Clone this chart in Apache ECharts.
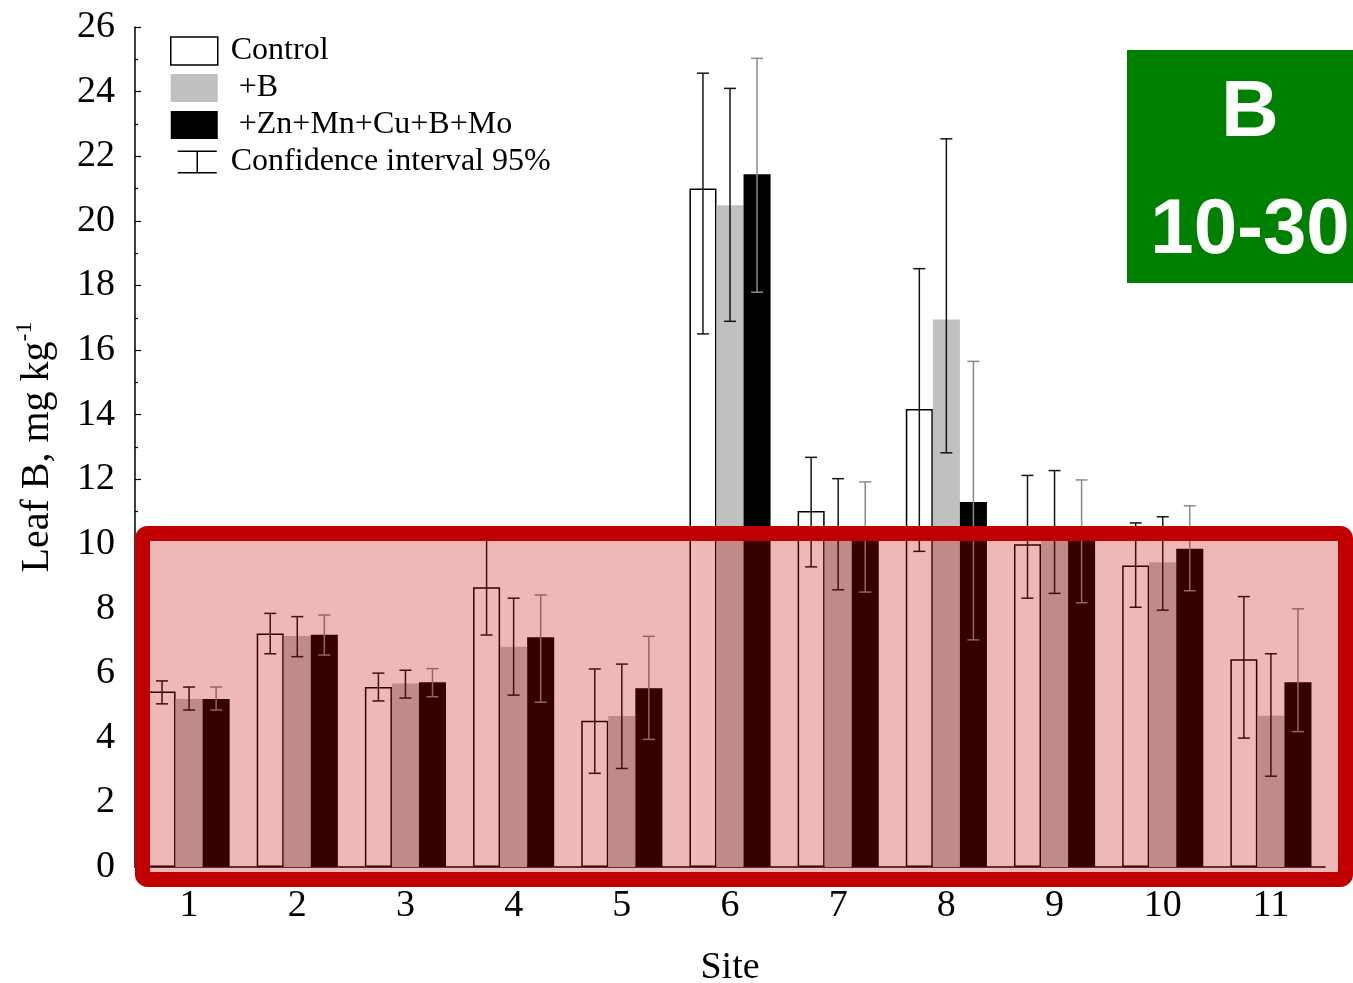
<!DOCTYPE html>
<html>
<head>
<meta charset="utf-8">
<script src="https://cdn.jsdelivr.net/npm/echarts@6/dist/echarts.min.js"></script>
<style>
  html, body { margin: 0; padding: 0; background: #fff; }
  #chart { width: 1353px; height: 983px; }
</style>
</head>
<body>
<div id="chart"></div>
<script>
// ---- data ----
const sites = ['1', '2', '3', '4', '5', '6', '7', '8', '9', '10', '11'];
const seriesNames = ['Control', '+B', '+Zn+Mn+Cu+B+Mo'];
const ciName = 'Confidence interval 95%';

const control     = [5.43, 7.23, 5.57, 8.66, 4.53, 21.00, 11.02, 14.18, 9.99, 9.33, 6.43];
const controlLow  = [5.05, 6.60, 5.14, 7.18, 2.90, 16.50, 9.29, 9.77, 8.32, 8.04, 3.99];
const controlHigh = [5.76, 7.85, 6.00, 10.14, 6.13, 24.57, 12.68, 18.52, 12.12, 10.65, 8.37];

const plusB       = [5.20, 7.15, 5.68, 6.82, 4.67, 20.48, 10.30, 16.95, 10.35, 9.43, 4.68];
const plusBLow    = [4.86, 6.51, 5.23, 5.32, 3.05, 16.89, 8.58, 12.82, 8.47, 7.95, 2.81];
const plusBHigh   = [5.57, 7.75, 6.09, 8.32, 6.28, 24.10, 12.02, 22.54, 12.27, 10.84, 6.60];

const mix         = [5.20, 7.19, 5.72, 7.11, 5.53, 21.44, 10.20, 11.30, 10.10, 9.85, 5.72];
const mixLow      = [4.86, 6.56, 5.27, 5.10, 3.95, 17.79, 8.51, 7.03, 8.18, 8.55, 4.19];
const mixHigh     = [5.57, 7.80, 6.14, 8.42, 7.14, 25.03, 11.92, 15.65, 11.98, 11.18, 7.99];

const yMin = 0, yMax = 26, yStep = 2;
const badgeTitle = 'B';
const badgeRange = '10-30';

// ---- build ----
const serif = 'Liberation Serif';
const lows = [controlLow, plusBLow, mixLow];
const highs = [controlHigh, plusBHigh, mixHigh];
const ciData = [];
for (let g = 0; g < 3; g++) {
  for (let i = 0; i < sites.length; i++) {
    ciData.push([i, g, lows[g][i], highs[g][i]]);
  }
}
const GAP = 0.25;

const chart = echarts.init(document.getElementById('chart'), null, { renderer: 'canvas' });

const option = {
  animation: false,
  backgroundColor: '#fff',
  grid: { left: 135, right: 28, top: 27, bottom: 116, containLabel: false, outerBoundsMode: 'none' },
  legend: {
    orient: 'vertical',
    left: 170,
    top: 35,
    padding: 0,
    itemWidth: 47,
    itemHeight: 28,
    itemGap: 5,
    selectedMode: false,
    textStyle: { fontFamily: serif, fontSize: 32, lineHeight: 28, color: '#000', padding: [0, 0, 0, 8] },
    formatter: function (name) {
      return (name === '+B' || name === '+Zn+Mn+Cu+B+Mo') ? ' ' + name : name;
    },
    data: [
      { name: seriesNames[0], icon: 'rect', itemStyle: { color: '#fff', borderColor: '#000', borderWidth: 1.5 } },
      { name: seriesNames[1], icon: 'rect', itemStyle: { color: '#c0c0c0', borderWidth: 0 } },
      { name: seriesNames[2], icon: 'rect', itemStyle: { color: '#000', borderWidth: 0 } },
      { name: ciName,
        icon: 'path://M0,0h0.01v0.01h-0.01z M46.99,27.99h0.01v0.01h-0.01z M7,2.5H46V4H27.25V24H46V25.5H7V24H25.75V4H7Z',
        itemStyle: { color: '#000', borderWidth: 0 } }
    ]
  },
  xAxis: {
    type: 'category',
    data: sites,
    name: 'Site',
    nameLocation: 'middle',
    nameGap: 82,
    nameTextStyle: { fontFamily: serif, fontSize: 38, color: '#000' },
    axisLine: { show: true, lineStyle: { color: '#000', width: 1.5 } },
    axisTick: { show: false },
    axisLabel: { fontFamily: serif, fontSize: 38, color: '#000', margin: 20 },
    splitLine: { show: false }
  },
  yAxis: {
    type: 'value',
    min: yMin,
    max: yMax,
    interval: yStep,
    name: '{n|Leaf B, mg kg}{s|-1}',
    nameLocation: 'middle',
    nameGap: 78,
    nameRotate: 90,
    nameTextStyle: {
      color: '#000',
      rich: {
        n: { fontFamily: serif, fontSize: 40, color: '#000', lineHeight: 44, verticalAlign: 'bottom' },
        s: { fontFamily: serif, fontSize: 24, color: '#000', lineHeight: 44, verticalAlign: 'top', padding: [0, 0, 18, 0] }
      }
    },
    axisLine: { show: true, lineStyle: { color: '#000', width: 1.5 } },
    axisTick: { show: true, inside: true, length: 6, lineStyle: { color: '#000', width: 1.2 } },
    minorTick: { show: true, splitNumber: 2, length: 3, lineStyle: { color: '#000', width: 1.2 } },
    axisLabel: { fontFamily: serif, fontSize: 38, color: '#000', margin: 20 },
    splitLine: { show: false },
    minorSplitLine: { show: false }
  },
  series: [
    {
      name: seriesNames[0], type: 'bar', data: control,
      barGap: '0%', barCategoryGap: (GAP * 100) + '%',
      itemStyle: { color: '#fff', borderColor: '#000', borderWidth: 1.5 },
      z: 2
    },
    {
      name: seriesNames[1], type: 'bar', data: plusB,
      barGap: '0%', barCategoryGap: (GAP * 100) + '%',
      itemStyle: { color: '#c0c0c0' },
      z: 2
    },
    {
      name: seriesNames[2], type: 'bar', data: mix,
      barGap: '0%', barCategoryGap: (GAP * 100) + '%',
      itemStyle: { color: '#000' },
      z: 2
    },
    {
      name: ciName,
      type: 'custom',
      data: ciData,
      encode: { x: 0, y: [2, 3] },
      z: 5,
      itemStyle: { color: '#000' },
      renderItem: function (params, api) {
        const cat = api.value(0), grp = api.value(1);
        const lo = api.value(2), hi = api.value(3);
        const band = api.size([1, 0])[0];
        const bw = band * (1 - GAP) / 3;
        const cx = api.coord([cat, 0])[0] + (grp - 1) * bw;
        const yLo = api.coord([cat, lo])[1];
        const yHi = api.coord([cat, hi])[1];
        const color = grp === 2 ? '#8a8a8a' : '#151515';
        const w = 6;
        const st = { stroke: color, lineWidth: 1.5 };
        return {
          type: 'group',
          children: [
            { type: 'line', shape: { x1: cx, y1: yLo, x2: cx, y2: yHi }, style: st },
            { type: 'line', shape: { x1: cx - w, y1: yHi, x2: cx + w, y2: yHi }, style: st },
            { type: 'line', shape: { x1: cx - w, y1: yLo, x2: cx + w, y2: yLo }, style: st }
          ]
        };
      }
    }
  ],
  graphic: [
    {
      type: 'rect', z: 100,
      shape: { x: 142.5, y: 533.5, width: 1203, height: 346, r: 5 },
      style: { fill: 'rgba(192,0,0,0.28)', stroke: '#c00000', lineWidth: 15 }
    },
    {
      type: 'rect', z: 100,
      shape: { x: 1127, y: 50, width: 226, height: 233 },
      style: { fill: '#008000' }
    },
    {
      type: 'text', z: 101, x: 1250, y: 114,
      style: { text: badgeTitle, fill: '#fff', font: 'bold 80px "Liberation Sans", Arial, sans-serif', textAlign: 'center', textVerticalAlign: 'middle' }
    },
    {
      type: 'text', z: 101, x: 1250, y: 231,
      style: { text: badgeRange, fill: '#fff', font: 'bold 78px "Liberation Sans", Arial, sans-serif', textAlign: 'center', textVerticalAlign: 'middle' }
    }
  ]
};

chart.setOption(option);
</script>
</body>
</html>
